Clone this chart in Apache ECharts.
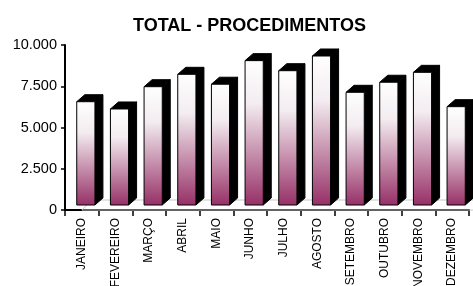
<!DOCTYPE html>
<html><head><meta charset="utf-8">
<script src="https://cdn.jsdelivr.net/npm/echarts@6/dist/echarts.min.js"></script>
<style>html,body{margin:0;padding:0;background:#fff}#c{width:473px;height:286px}</style>
</head><body><div id="c"></div>
<script>
var categories = ['JANEIRO','FEVEREIRO','MARÇO','ABRIL','MAIO','JUNHO','JULHO','AGOSTO','SETEMBRO','OUTUBRO','NOVEMBRO','DEZEMBRO'];
var values = [6260, 5820, 7170, 7920, 7320, 8750, 8140, 9030, 6830, 7440, 8040, 5960];
var yTicks = [0, 2500, 5000, 7500, 10000];

var chart = echarts.init(document.getElementById('c'));
var OX = 4, OY = -5, DX = 8, DY = -7;

function renderBar(params, api) {
  var idx = api.value(0), v = api.value(1);
  var p0 = api.coord([idx, 0]), p1 = api.coord([idx, v]);
  var w = api.size([1, 0])[0] * 0.54;
  var x0 = p0[0] - w / 2 + OX, x1 = x0 + w;
  var yb = p0[1] + OY, yt = p1[1] + OY;
  return {
    type: 'group',
    children: [
      { type: 'polygon', shape: { points: [[x1, yb], [x1 + DX, yb + DY], [x1 + DX, yt + DY], [x1, yt]] },
        style: { fill: '#000', stroke: '#000', lineWidth: 1 } },
      { type: 'polygon', shape: { points: [[x0, yt], [x0 + DX, yt + DY], [x1 + DX, yt + DY], [x1, yt]] },
        style: { fill: '#000', stroke: '#000', lineWidth: 1 } },
      { type: 'rect', shape: { x: x0, y: yt, width: w, height: yb - yt },
        style: { fill: new echarts.graphic.LinearGradient(0, 0, 0, 1, [
          { offset: 0, color: '#ffffff' }, { offset: 0.3, color: '#f3ecf0' }, { offset: 1, color: '#962f66' }]),
          stroke: '#000', lineWidth: 1 } }
    ]
  };
}

function renderFloor(params, api) {
  var a = api.coord([-0.5, 0]), b = api.coord([categories.length - 0.5, 0]);
  return {
    type: 'polygon',
    shape: { points: [[a[0], a[1]], [a[0] + DX + 2, a[1] - 10], [b[0] + DX + 2, b[1] - 10], [b[0], b[1]]] },
    style: { fill: 'none', stroke: '#c8c8c8', lineWidth: 1 }, silent: true
  };
}

chart.setOption({
  animation: false,
  title: { text: 'TOTAL - PROCEDIMENTOS', left: 128, top: 12,
    textStyle: { fontFamily: 'Liberation Sans, Arial', fontSize: 18, fontWeight: 'bold', color: '#000' } },
  grid: { left: 65, right: 4, top: 45, bottom: 76, containLabel: false, outerBoundsMode: 'none' },
  xAxis: {
    type: 'category', data: categories,
    axisLine: { lineStyle: { color: '#000', width: 2 } },
    axisTick: { show: true, length: 6, lineStyle: { color: '#000', width: 1.5 } },
    axisLabel: { rotate: 90, fontFamily: 'Liberation Sans, Arial', fontSize: 12, color: '#000', margin: 8, interval: 0 }
  },
  yAxis: {
    type: 'value', min: yTicks[0], max: yTicks[yTicks.length - 1], interval: 2500,
    axisLine: { show: true, lineStyle: { color: '#000', width: 2 } },
    axisTick: { show: true, length: 4, lineStyle: { color: '#000', width: 1.5 } },
    splitLine: { show: false },
    axisLabel: { fontFamily: 'Liberation Sans, Arial', fontSize: 14.5, color: '#000', margin: 8,
      formatter: function (v) { return String(v).replace(/\B(?=(\d{3})+(?!\d))/g, '.'); } }
  },
  series: [
    { type: 'custom', renderItem: renderFloor, data: [[0, 0]], silent: true, z: 1 },
    { type: 'custom', renderItem: renderBar, data: values.map(function (v, i) { return [i, v]; }), z: 2 }
  ]
});
</script></body></html>
